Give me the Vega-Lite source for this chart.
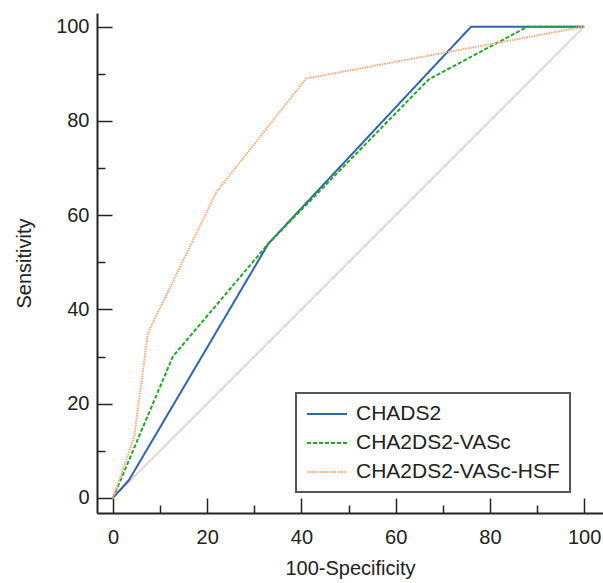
{
  "$schema": "https://vega.github.io/schema/vega-lite/v6.json",
  "width": 506,
  "height": 500,
  "autosize": {"type": "none"},
  "padding": {"left": 97, "top": 13, "right": 0, "bottom": 70},
  "background": "white",
  "config": {
    "view": {"stroke": null},
    "font": "Liberation Sans",
    "axis": {
      "domainColor": "#222",
      "domainWidth": 2,
      "tickColor": "#222",
      "tickWidth": 1.5,
      "grid": false,
      "labelFont": "Liberation Sans",
      "labelFontSize": 20,
      "labelColor": "#222",
      "titleFont": "Liberation Sans",
      "titleFontSize": 20,
      "titleFontWeight": "normal",
      "titleColor": "#222"
    }
  },
  "layer": [
    {
      "data": {"values": [{"fx": 0, "sy": 0}, {"fx": 100, "sy": 100}]},
      "mark": {"type": "line", "color": "#e6bcc0", "strokeWidth": 1.2},
      "encoding": {
        "x": {"field": "fx", "type": "quantitative"},
        "y": {"field": "sy", "type": "quantitative"}
      }
    },
    {
      "data": {
        "values": [
          {"series": "CHADS2", "o": 1, "fx": 0, "sy": 0},
          {"series": "CHADS2", "o": 2, "fx": 3.4, "sy": 3.8},
          {"series": "CHADS2", "o": 3, "fx": 33, "sy": 54},
          {"series": "CHADS2", "o": 4, "fx": 76, "sy": 100},
          {"series": "CHADS2", "o": 5, "fx": 100, "sy": 100},
          {"series": "CHA2DS2-VASc", "o": 1, "fx": 0, "sy": 0},
          {"series": "CHA2DS2-VASc", "o": 2, "fx": 12.7, "sy": 30},
          {"series": "CHA2DS2-VASc", "o": 3, "fx": 33, "sy": 54},
          {"series": "CHA2DS2-VASc", "o": 4, "fx": 67, "sy": 88.8},
          {"series": "CHA2DS2-VASc", "o": 5, "fx": 88, "sy": 100},
          {"series": "CHA2DS2-VASc", "o": 6, "fx": 100, "sy": 100},
          {"series": "CHA2DS2-VASc-HSF", "o": 1, "fx": 0, "sy": 0},
          {"series": "CHA2DS2-VASc-HSF", "o": 2, "fx": 4.5, "sy": 13},
          {"series": "CHA2DS2-VASc-HSF", "o": 3, "fx": 7.4, "sy": 35},
          {"series": "CHA2DS2-VASc-HSF", "o": 4, "fx": 22, "sy": 65},
          {"series": "CHA2DS2-VASc-HSF", "o": 5, "fx": 41, "sy": 89},
          {"series": "CHA2DS2-VASc-HSF", "o": 6, "fx": 100, "sy": 100}
        ]
      },
      "mark": {"type": "line", "strokeWidth": 2},
      "encoding": {
        "x": {
          "field": "fx",
          "type": "quantitative",
          "scale": {"domain": [-3.4, 104], "nice": false, "zero": false},
          "axis": {
            "title": "100-Specificity",
            "values": [0, 5, 10, 15, 20, 25, 30, 35, 40, 45, 50, 55, 60, 65, 70, 75, 80, 85, 90, 95, 100],
            "tickSize": {"condition": {"test": "datum.value % 20 === 0", "value": -15}, "value": -8},
            "labelExpr": "datum.value % 20 === 0 ? datum.label : ''",
            "labelPadding": 29,
            "titlePadding": 4,
            "labelOverlap": false
          }
        },
        "y": {
          "field": "sy",
          "type": "quantitative",
          "scale": {"domain": [-3.2, 102.9], "nice": false, "zero": false},
          "axis": {
            "title": "Sensitivity",
            "values": [0, 5, 10, 15, 20, 25, 30, 35, 40, 45, 50, 55, 60, 65, 70, 75, 80, 85, 90, 95, 100],
            "tickSize": {"condition": {"test": "datum.value % 20 === 0", "value": -15}, "value": -8},
            "labelExpr": "datum.value % 20 === 0 ? datum.label : ''",
            "labelPadding": 23,
            "titlePadding": 21,
            "labelOverlap": false
          }
        },
        "order": {"field": "o", "type": "quantitative"},
        "color": {
          "field": "series",
          "type": "nominal",
          "scale": {
            "domain": ["CHADS2", "CHA2DS2-VASc", "CHA2DS2-VASc-HSF"],
            "range": ["#2f65b0", "#22a822", "#ffa878"]
          },
          "legend": {
            "title": null,
            "orient": "none",
            "legendX": 199,
            "legendY": 380,
            "symbolType": "M-1,0H3",
            "symbolSize": 400,
            "symbolStrokeWidth": 2,
            "symbolFillColor": "transparent",
            "labelFont": "Liberation Sans",
            "labelFontSize": 21,
            "labelColor": "#222",
            "labelLimit": 400,
            "labelOffset": 28,
            "rowPadding": 8,
            "padding": 10,
            "strokeColor": "#555",
            "encode": {"legend": {"update": {"strokeWidth": {"value": 2}}}}
          }
        },
        "strokeDash": {
          "field": "series",
          "type": "nominal",
          "scale": {
            "domain": ["CHADS2", "CHA2DS2-VASc", "CHA2DS2-VASc-HSF"],
            "range": [[1, 0], [4, 2], [1.5, 1]]
          },
          "legend": null
        }
      }
    }
  ]
}
